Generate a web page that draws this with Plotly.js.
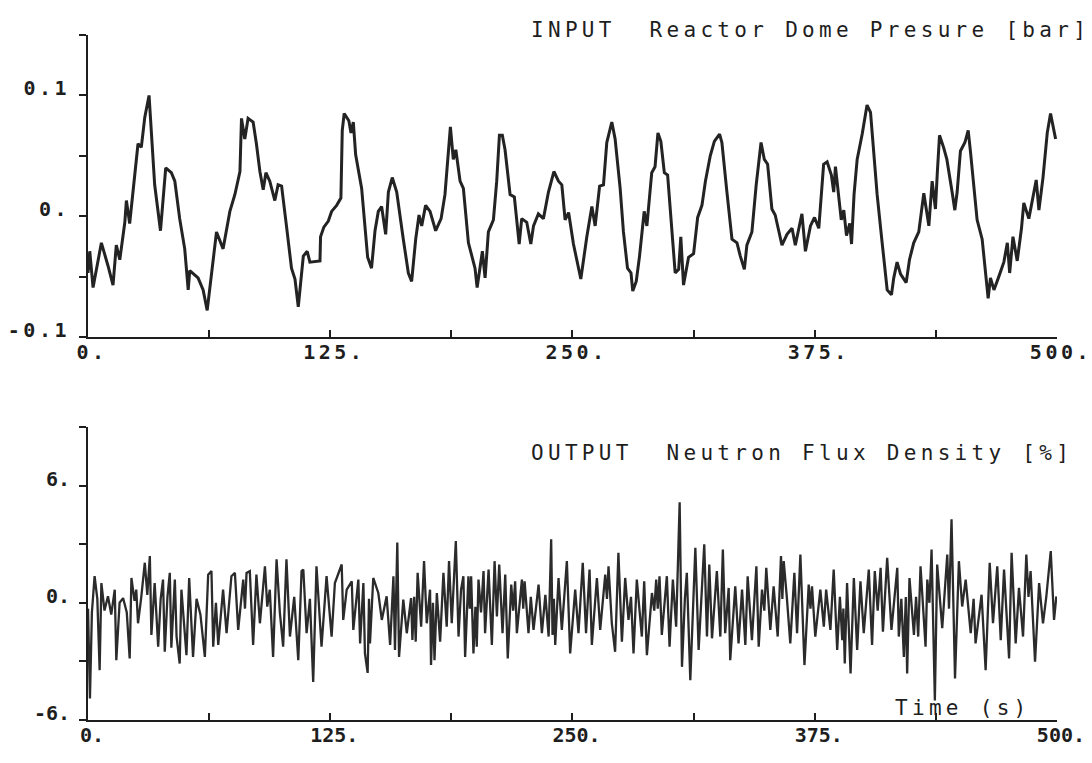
<!DOCTYPE html>
<html>
<head>
<meta charset="utf-8">
<script src="https://cdn.plot.ly/plotly-3.0.1.min.js"></script>
<style>
  html, body { margin: 0; padding: 0; background: #fff; }
  #plot { width: 1092px; height: 763px; }
  .xtick text, .ytick text { letter-spacing: 3.5px; }
  .annotation-text { letter-spacing: 4.3px; }
</style>
</head>
<body>
<div id="plot"></div>
<script>
// ---- INPUT: Reactor Dome Pressure [bar] ----
const inputTime = [0,0.9,2.6,6.9,10.3,12.9,14.6,16.4,19.0,19.8,21.5,23.2,25.8,27.5,29.3,31.5,32.7,34.4,37.4,40.1,43.0,44.8,47.3,49.9,51.7,52.5,56.8,59.4,61.5,63.7,66.3,69.7,73.2,75.8,78.4,79.2,80.9,82.6,85.2,86.9,88.7,90.4,91.8,93.8,96.4,98.1,99.9,102.4,105.0,106.8,108.5,111.1,113.1,114.5,119.7,120.0,121.7,124.0,125.7,128.3,130.5,131.2,132.2,134.6,135.7,136.9,138.1,141.2,144.3,146.3,148.1,149.8,151.5,153.6,155.0,157.0,159.3,162.7,165.3,167.0,169.1,170.8,172.2,174.2,176.5,179.4,182.2,184.2,186.0,187.0,188.5,189.8,192.0,193.7,196.3,199.7,200.8,202.3,203.5,204.9,206.6,209.2,210.9,212.3,213.8,215.2,217.8,220.0,222.5,223.8,226.4,228.5,229.9,232.4,235.0,237.6,240.4,242.8,244.5,246.2,248.0,250.5,252.2,254.3,257.4,260.0,261.7,264.0,266.0,267.7,270.3,272.0,274.6,276.3,278.4,280.2,281.1,282.9,284.6,287.0,288.4,290.9,292.6,294.1,295.6,297.4,299.1,300.8,303.0,304.8,305.9,307.3,309.9,312.5,314.6,316.8,318.6,321.1,323.2,325.9,327.1,329.7,332.3,334.9,336.6,338.7,340.0,342.6,344.8,347.3,349.0,350.7,352.9,354.6,356.4,358.1,360.7,363.3,365.0,368.4,370.2,372.8,374.9,377.1,379.6,381.4,383.6,384.8,385.7,387.0,388.7,390.0,391.4,393.1,394.0,395.3,396.9,399.5,402.0,403.8,405.0,407.2,409.8,411.5,412.4,414.6,415.8,417.5,419.3,422.2,423.9,426.1,428.7,431.3,433.9,435.6,437.3,438.2,439.4,441.5,443.2,445.9,447.3,448.5,450.2,452.5,454.2,455.4,457.1,458.8,461.4,463.2,464.5,465.7,467.5,470.0,472.6,474.4,475.6,477.3,479.5,481.7,482.9,485.5,488.1,489.3,490.7,492.8,495.0,496.7,499.3];
const inputPressure = [-0.047,-0.029,-0.059,-0.022,-0.041,-0.057,-0.024,-0.036,-0.005,0.013,-0.006,0.020,0.060,0.057,0.082,0.100,0.071,0.026,-0.012,0.040,0.036,0.029,-0.002,-0.027,-0.061,-0.045,-0.051,-0.061,-0.078,-0.047,-0.013,-0.027,0.004,0.018,0.037,0.081,0.064,0.081,0.078,0.060,0.037,0.022,0.036,0.029,0.013,0.026,0.025,-0.008,-0.043,-0.052,-0.075,-0.033,-0.029,-0.038,-0.037,-0.017,-0.009,-0.004,0.004,0.009,0.015,0.071,0.085,0.079,0.069,0.078,0.051,0.023,-0.034,-0.043,-0.012,0.004,0.008,-0.015,0.020,0.032,0.020,-0.019,-0.047,-0.054,-0.019,0.001,-0.008,0.009,0.004,-0.012,-0.002,0.018,0.051,0.074,0.047,0.055,0.029,0.023,-0.022,-0.043,-0.059,-0.041,-0.029,-0.051,-0.013,-0.003,0.029,0.067,0.067,0.055,0.018,0.016,-0.023,-0.002,-0.005,-0.023,-0.008,0.002,-0.002,0.020,0.037,0.029,0.026,-0.003,0.003,-0.023,-0.037,-0.052,-0.017,0.008,-0.008,0.025,0.026,0.061,0.078,0.064,0.023,-0.013,-0.043,-0.047,-0.062,-0.054,-0.033,0.004,-0.008,0.036,0.041,0.069,0.062,0.036,0.034,-0.003,-0.047,-0.044,-0.017,-0.057,-0.034,-0.031,-0.001,0.009,0.029,0.050,0.062,0.068,0.061,0.020,-0.019,-0.022,-0.033,-0.044,-0.024,-0.013,0.026,0.061,0.047,0.043,0.006,0.001,-0.012,-0.024,-0.015,-0.010,-0.024,0.002,-0.029,-0.008,-0.001,-0.010,0.043,0.045,0.034,0.020,0.041,0.020,-0.003,0.005,-0.016,-0.006,-0.023,0.018,0.047,0.068,0.092,0.086,0.060,0.018,-0.022,-0.047,-0.061,-0.065,-0.051,-0.038,-0.048,-0.055,-0.036,-0.022,-0.013,0.019,-0.008,0.029,0.006,0.034,0.067,0.057,0.047,0.020,0.005,0.020,0.054,0.061,0.071,0.053,0.026,-0.003,-0.019,-0.045,-0.068,-0.051,-0.061,-0.050,-0.038,-0.022,-0.047,-0.017,-0.037,-0.010,0.011,-0.002,0.018,0.030,0.005,0.032,0.069,0.085,0.064];

// ---- OUTPUT: Neutron Flux Density [%] ----
const outputTime = [0,1.0,2.0,3.4,4.8,6.0,6.9,8.5,10.3,12.0,13.8,14.6,16.3,18.1,20.0,21.5,22.4,24.0,24.9,25.8,27.5,29.3,30.6,31.9,32.7,34.4,36.2,37.5,38.7,39.6,41.0,42.2,43.0,44.8,45.7,47.3,48.2,50.8,52.2,54.2,56.0,58.0,60.3,62.0,63.7,64.6,66.0,67.2,69.7,71.5,74.0,75.8,77.5,80.1,81.0,81.8,83.5,85.2,86.9,88.7,91.3,92.5,93.8,95.5,97.3,99.0,100.7,102.4,104.2,106.4,108.5,110.2,111.1,112.8,114.5,116.2,117.9,120.5,123.1,125.7,127.4,130.9,131.7,133.5,136.1,136.9,139.5,140.4,142.1,142.9,144.3,145.0,145.5,147.2,149.8,151.6,154.1,155.9,157.6,158.4,159.6,160.5,162.7,164.5,166.7,167.4,168.3,169.1,170.1,171.9,173.4,174.8,176.5,177.0,178.0,178.8,180.0,181.7,183.4,185.1,186.3,187.7,189.8,191.2,192.5,193.7,194.6,196.3,197.0,197.7,198.9,199.9,200.6,201.5,202.8,204.1,204.9,206.7,208.4,209.8,211.0,212.2,213.9,215.3,216.6,218.4,219.4,220.4,221.3,223.9,224.6,225.3,227.3,228.5,229.9,232.5,234.2,236.0,237.7,239.0,239.7,240.4,241.1,242.8,244.5,247.1,248.8,251.4,253.1,255.3,257.0,258.8,260.0,262.6,264.3,266.9,267.8,268.6,270.3,272.0,273.7,275.5,277.2,278.9,280.2,281.5,283.2,285.8,287.0,288.4,291.0,292.2,293.2,294.0,294.9,296.1,298.7,300.1,301.8,303.5,305.3,306.5,308.0,309.0,310.8,313.4,315.1,318.0,319.4,320.6,322.0,324.5,326.3,327.6,328.8,330.6,331.4,334.0,335.7,337.5,339.2,340.4,342.6,344.9,346.1,347.8,349.0,350.0,352.1,353.8,355.9,357.6,358.3,359.0,360.6,362.4,364.5,365.9,367.6,369.7,371.9,372.8,373.6,375.3,377.9,379.7,380.9,383.1,384.8,386.6,388.0,389.2,389.8,390.5,391.7,393.5,395.2,396.9,398.6,400.3,402.9,404.6,406.0,407.5,409.0,410.2,412.4,414.6,417.6,418.4,419.7,421.0,422.0,422.7,423.9,426.2,427.3,428.4,429.6,432.2,433.1,434.2,435.3,437.0,438.2,440.8,443.4,444.3,445.6,447.4,449.4,451.1,452.9,455.5,457.0,458.0,461.1,463.2,465.3,467.0,469.2,471.0,472.7,475.3,476.6,478.7,480.4,482.5,484.2,485.3,486.4,488.7,490.8,492.8,494.5,496.8,498.5,499.7];
const outputFlux = [-0.3,-4.9,-0.5,1.36,0.2,-3.45,1.01,-0.4,0.33,-0.6,0.67,-2.94,0.0,0.24,-0.5,-2.85,1.27,0.1,0.67,-1.05,0.3,2.05,0.4,2.39,-1.65,1.01,-2.25,0.2,1.19,-2.51,0.3,1.53,-2.3,1.19,-1.73,-3.11,0.67,-2.68,1.27,-2.77,0.2,-0.6,-2.77,1.44,1.62,-2.25,0.0,-2.16,0.67,-1.56,1.36,1.53,-1.39,1.19,-0.3,1.53,1.62,-2.16,1.44,-1.05,1.87,-0.2,0.67,-2.77,2.22,-0.5,-2.25,2.22,-1.73,0.3,-2.94,1.62,1.70,-1.56,0.2,-4.05,1.87,-2.25,1.36,-1.73,1.01,1.96,-0.88,0.67,1.10,-1.39,1.19,-2.08,1.01,-2.59,-3.59,0.2,-2.08,1.27,0.50,-0.88,0.33,-2.16,1.36,-2.42,3.08,-2.77,0.16,-1.56,0.24,-1.91,0.3,-1.99,1.53,-1.22,2.13,-1.05,0.67,-3.19,0.0,-2.94,0.50,-1.99,1.53,-1.22,2.13,-1.05,3.16,-1.73,0.67,1.36,-2.77,1.36,-0.3,1.36,-2.59,-0.2,-2.25,1.19,-0.5,1.62,-1.56,1.70,-2.16,2.13,-0.70,1.96,-1.56,1.44,-2.85,0.93,-0.4,1.10,-1.56,1.19,-0.3,1.10,-1.56,0.3,-1.39,0.93,-1.56,0.4,-1.73,3.25,-1.65,0.2,-2.16,1.27,-1.39,2.13,-2.59,0.67,-1.56,2.05,-1.56,1.70,-2.16,1.27,-1.39,1.44,0.2,1.87,-1.05,-2.51,2.56,-1.99,1.27,-0.88,0.3,-2.59,1.19,-1.73,1.10,-2.68,0.50,-0.4,1.19,-0.3,1.36,-1.65,1.36,-2.25,1.19,-1.22,5.14,-3.28,0.2,1.53,-3.97,2.82,-2.42,2.99,-1.73,1.96,-1.82,1.62,-1.73,2.73,-1.56,0.76,-2.94,0.84,-2.08,0.67,-2.16,1.36,-1.91,1.87,-2.25,0.67,-0.4,1.79,-1.39,0.84,-1.73,2.39,0.2,2.13,0.3,-2.08,1.53,-1.56,2.47,-3.19,0.93,-0.3,0.84,-1.73,0.67,-1.22,0.67,-1.39,1.70,-2.42,0.3,-1.91,-0.3,-3.11,1.01,-3.62,1.27,-2.42,1.10,-1.56,1.70,-2.16,1.62,-0.4,1.79,-1.48,2.30,-1.39,1.79,-1.73,0.2,-2.77,0.3,-3.62,1.27,-1.65,0.3,-1.73,1.87,-2.25,1.19,0.0,2.73,-5.0,1.96,-1.30,2.47,-0.3,4.28,-3.88,2.13,-0.19,1.19,-1.56,0.2,-2.08,0.41,-3.45,2.05,-1.05,1.87,-1.91,1.70,-2.85,2.56,-2.08,0.76,-1.73,2.47,0.3,1.62,-3.02,1.01,-1.05,0.3,2.65,-0.88,0.33];

// ---- axes / labels ----
const xTicks = [0,62.5,125,187.5,250,312.5,375,437.5,500];
const xTickText = ['0.','','125.','','250.','','375.','','500.'];
const yTopTicks = [-0.1,-0.05,0,0.05,0.1,0.15];
const yTopText = ['-0.1','','0.','','0.1',''];
const yBotTicks = [-6,-3,0,3,6,9];
const yBotText = ['-6.','','0.','','6.',''];
const inputTitle = 'INPUT  Reactor Dome Presure [bar]';
const outputTitle = 'OUTPUT  Neutron Flux Density [%]';
const timeLabel = 'Time (s)';

const ink = '#1e1e1e';
const tickFont = {family: 'DejaVu Sans Mono', size: 20, color: ink, weight: 'bold'};
const titleFont = {family: 'DejaVu Sans Mono', size: 21, color: ink};

const traces = [
  {x: inputTime, y: inputPressure, type: 'scatter', mode: 'lines', xaxis: 'x', yaxis: 'y',
   line: {color: '#232323', width: 3}, hoverinfo: 'skip'},
  {x: outputTime, y: outputFlux, type: 'scatter', mode: 'lines', xaxis: 'x2', yaxis: 'y2',
   line: {color: '#2b2b2b', width: 2.3}, hoverinfo: 'skip'}
];

function xAxis(anchor) {
  return {domain: [0.0806, 0.9679], range: [0, 500], anchor: anchor,
    tickmode: 'array', tickvals: xTicks, ticktext: xTickText,
    ticks: 'inside', ticklen: 7, tickwidth: 2, tickcolor: ink,
    ticklabelshift: 4, ticklabelstandoff: -4, ticklabeloverflow: 'allow',
    showline: true, linecolor: ink, linewidth: 2, showgrid: false, zeroline: false,
    tickfont: tickFont, fixedrange: true};
}
function yAxis(anchor, dom, rng, vals, txt) {
  return {domain: dom, range: rng, anchor: anchor,
    tickmode: 'array', tickvals: vals, ticktext: txt,
    ticks: 'outside', ticklen: 7, tickwidth: 2, tickcolor: ink,
    ticklabelshift: -7, ticklabelstandoff: 5, ticklabeloverflow: 'allow',
    showline: true, linecolor: ink, linewidth: 2, showgrid: false, zeroline: false,
    tickfont: tickFont, fixedrange: true};
}

const layout = {
  width: 1092, height: 763,
  margin: {l: 0, r: 0, t: 0, b: 0},
  paper_bgcolor: '#ffffff', plot_bgcolor: '#ffffff',
  showlegend: false,
  xaxis: xAxis('y'),
  yaxis: yAxis('x', [0.5583, 0.9541], [-0.1, 0.15], yTopTicks, yTopText),
  xaxis2: xAxis('y2'),
  yaxis2: yAxis('x2', [0.0564, 0.4404], [-6, 9], yBotTicks, yBotText),
  annotations: [
    {text: inputTitle, xref: 'paper', yref: 'paper', x: 0.484, y: 0.961, xanchor: 'left', yanchor: 'middle',
     showarrow: false, font: titleFont},
    {text: outputTitle, xref: 'paper', yref: 'paper', x: 0.484, y: 0.406, xanchor: 'left', yanchor: 'middle',
     showarrow: false, font: titleFont},
    {text: timeLabel, xref: 'paper', yref: 'paper', x: 0.818, y: 0.072, xanchor: 'left', yanchor: 'middle',
     showarrow: false, font: titleFont}
  ]
};

Plotly.newPlot('plot', traces, layout, {staticPlot: true, displayModeBar: false});
</script>
</body>
</html>
